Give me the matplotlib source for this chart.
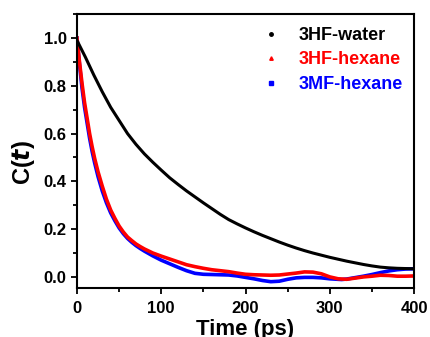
import numpy as np
import matplotlib
matplotlib.use("Agg")
from matplotlib import pyplot as plt
from matplotlib.lines import Line2D
from matplotlib.ticker import MultipleLocator

plt.rcParams["font.family"] = ["Liberation Sans", "DejaVu Sans"]
plt.rcParams["font.weight"] = "bold"

# 3HF-water
t_water = list(range(0, 401, 10))
c_water = [0.99, 0.92, 0.845, 0.775, 0.71, 0.655, 0.60, 0.555, 0.515, 0.48,
           0.447, 0.415, 0.387, 0.36, 0.335, 0.31, 0.286, 0.262, 0.24, 0.222,
           0.205, 0.189, 0.174, 0.16, 0.146, 0.133, 0.121, 0.11, 0.1, 0.091,
           0.082, 0.074, 0.066, 0.059, 0.052, 0.046, 0.041, 0.038, 0.036, 0.035, 0.034]

# 3HF-hexane
t_hex = [0, 3, 6, 9, 12, 15, 18, 21, 25, 30, 35, 40, 45, 50, 55, 60, 65, 70, 75, 80,
         90, 100, 110, 120, 130, 140, 150, 160, 170, 180, 190, 200, 210, 220, 230, 240,
         250, 260, 270, 280, 290, 300, 310, 320, 330, 340, 350, 360, 370, 380, 390, 400]
c_hex = [1.0, 0.9, 0.81, 0.73, 0.665, 0.6, 0.545, 0.496, 0.44, 0.38, 0.325, 0.28, 0.245,
         0.213, 0.188, 0.167, 0.152, 0.138, 0.127, 0.117, 0.1, 0.087, 0.075, 0.063, 0.051,
         0.043, 0.036, 0.03, 0.026, 0.022, 0.016, 0.011, 0.009, 0.008, 0.007, 0.008, 0.012,
         0.016, 0.021, 0.02, 0.013, 0.0, -0.008, -0.01, -0.005, 0.0, 0.003, 0.007, 0.006,
         0.003, 0.003, 0.004]

# 3MF-hexane
t_mf = [0, 3, 6, 9, 12, 15, 18, 21, 25, 30, 35, 40, 45, 50, 55, 60, 65, 70, 75, 80,
        90, 100, 110, 120, 130, 140, 150, 160, 170, 180, 190, 200, 210, 220, 230, 240,
        250, 260, 270, 280, 290, 300, 314, 320, 330, 340, 350, 360, 370, 380, 390, 400]
c_mf = [1.0, 0.89, 0.79, 0.71, 0.645, 0.58, 0.525, 0.477, 0.42, 0.36, 0.31, 0.268, 0.235,
        0.205, 0.181, 0.161, 0.145, 0.131, 0.119, 0.108, 0.088, 0.07, 0.055, 0.04, 0.026,
        0.015, 0.011, 0.01, 0.009, 0.008, 0.004, -0.002, -0.008, -0.015, -0.02, -0.018,
        -0.01, -0.004, -0.002, -0.002, -0.004, -0.008, -0.011, -0.009, -0.003, 0.003,
        0.01, 0.018, 0.025, 0.03, 0.033, 0.034]

labels = ["3HF-water", "3HF-hexane", "3MF-hexane"]
colors = ["black", "#ff0000", "#0000ff"]
markers = ["o", "^", "s"]

fig = plt.figure(figsize=(4.3, 3.37), dpi=100)
ax = fig.add_axes([0.179, 0.145, 0.784, 0.813])

ax.plot(t_water, c_water, color=colors[0], lw=2.2, zorder=3)
ax.plot(t_mf, c_mf, color=colors[2], lw=2.6, zorder=2)
ax.plot(t_hex, c_hex, color=colors[1], lw=2.6, zorder=2.5)

ax.set_xlim(0, 400)
ax.set_ylim(-0.047, 1.1)
ax.xaxis.set_major_locator(MultipleLocator(100))
ax.xaxis.set_minor_locator(MultipleLocator(50))
ax.yaxis.set_major_locator(MultipleLocator(0.2))
ax.yaxis.set_minor_locator(MultipleLocator(0.1))
ax.set_xticks([0, 100, 200, 300, 400])
ax.set_yticks([0.0, 0.2, 0.4, 0.6, 0.8, 1.0])
ax.set_yticklabels(["0.0", "0.2", "0.4", "0.6", "0.8", "1.0"])

for s in ax.spines.values():
    s.set_linewidth(1.5)
ax.tick_params(which="major", direction="out", length=4.5, width=1.3, labelsize=12, pad=3)
ax.tick_params(axis="x", which="major", pad=5)
ax.tick_params(which="minor", direction="out", length=2.8, width=1.3)
ax.tick_params(top=False, right=False)

ax.set_xlabel("Time (ps)", fontsize=16, fontweight="bold", labelpad=2)
ax.set_ylabel("C($\\mathbf{\\mathit{t}}$)", fontsize=17, fontweight="bold")
ax.yaxis.set_label_coords(-0.119, 0.46)

handles = [Line2D([], [], ls="none", marker=m, color=c, markersize=2.5) for m, c in zip(markers, colors)]
leg = ax.legend(handles, labels, loc="upper left", bbox_to_anchor=(0.528, 0.98),
                frameon=False, fontsize=13, handlelength=1.0, handletextpad=1.0,
                labelspacing=0.42, borderaxespad=0)
for txt, c in zip(leg.get_texts(), colors):
    txt.set_color(c)
    txt.set_fontweight("bold")

fig.savefig("out.png", dpi=100)
